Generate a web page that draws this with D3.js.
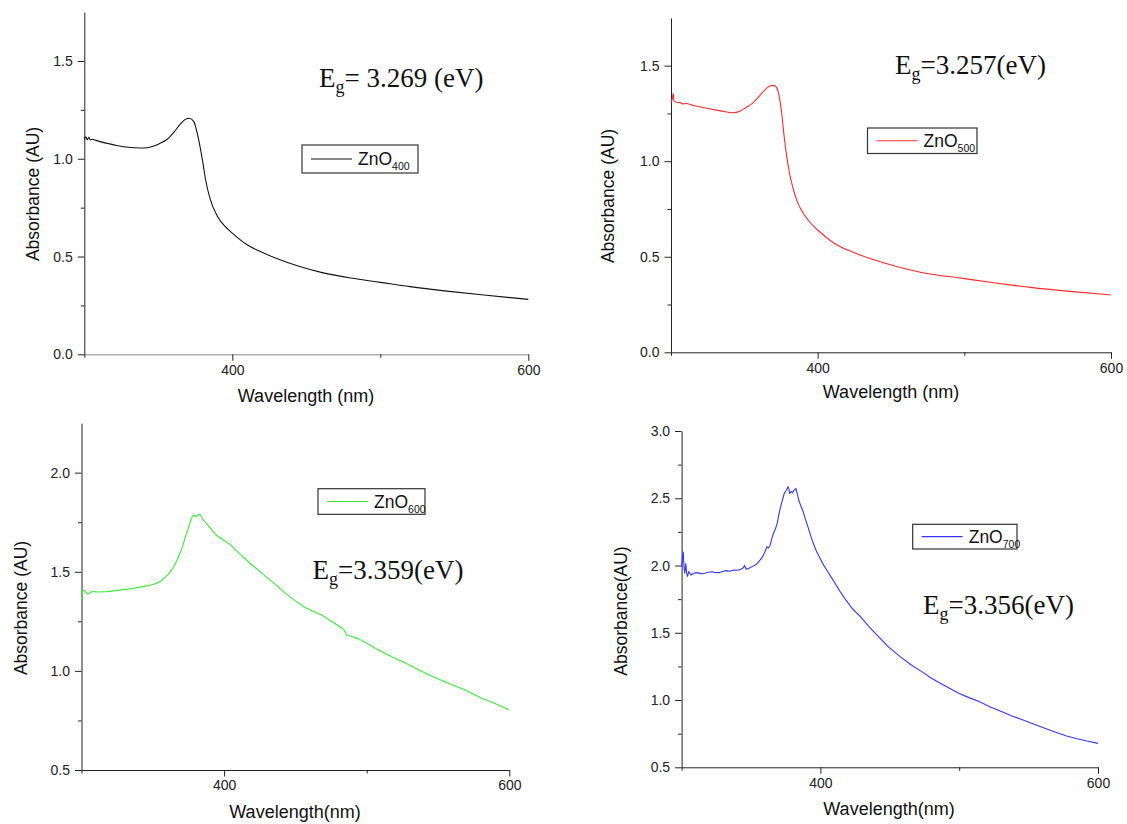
<!DOCTYPE html>
<html>
<head>
<meta charset="utf-8">
<script src="https://cdn.jsdelivr.net/npm/d3@7"></script>
<style>
  body { margin: 0; background: #fff; }
  svg { display: block; }
  .tick text { font-family: "Liberation Sans", Arial, sans-serif; font-size: 14px; fill: #222; }
</style>
</head>
<body>
<svg id="chart" width="1127" height="824"></svg>
<script>
// tick values shared by all four spectra
const xMajorTicks = [400, 600];
const xMinorTicks = [300, 500];

// absorbance spectra: [wavelength nm, absorbance AU]
const zno400 = [[300,1.10],[301,1.112],[302,1.098],[303,1.11],[304,1.096],[305.5,1.1],[308,1.094],[312,1.085],[316,1.078],[322,1.068],[328,1.06],[334,1.056],[340,1.055],[346,1.063],[351,1.078],[356,1.1],[361,1.14],[365,1.178],[368,1.2],[371,1.207],[374,1.19],[376,1.14],[378,1.07],[380,0.985],[382,0.89],[385,0.795],[390,0.705],[395,0.655],[400,0.62],[410,0.56],[420,0.522],[430,0.49],[445,0.45],[460,0.419],[480,0.39],[500,0.368],[520,0.346],[545,0.323],[570,0.303],[600,0.281]];

const zno500 = [[300,1.31],[301,1.33],[301.5,1.355],[302,1.318],[303,1.312],[304.5,1.306],[306,1.308],[308,1.3],[310,1.302],[316,1.29],[322,1.281],[328,1.272],[335,1.262],[342,1.254],[347,1.262],[351,1.28],[355,1.30],[359,1.33],[363,1.365],[367,1.392],[370,1.397],[372.5,1.378],[374,1.33],[375.5,1.25],[377,1.14],[379,1.02],[381,0.93],[383,0.865],[386,0.79],[390,0.73],[395,0.678],[400,0.64],[411,0.572],[426,0.518],[446,0.466],[470,0.419],[499,0.387],[520,0.364],[545,0.34],[570,0.32],[600,0.30]];

const zno600 = [[300,1.358],[300.8,1.408],[302,1.405],[304.5,1.386],[307.5,1.40],[312,1.398],[317.6,1.40],[324,1.405],[330,1.411],[336,1.416],[342.7,1.425],[348,1.432],[352.8,1.442],[356,1.455],[359,1.475],[361.5,1.493],[364,1.517],[366.5,1.55],[369,1.593],[371,1.632],[372.9,1.677],[375,1.72],[376.6,1.761],[378,1.781],[379,1.786],[380.4,1.778],[381.5,1.785],[383,1.791],[384,1.778],[385.4,1.761],[388,1.742],[390.5,1.719],[394,1.688],[399.5,1.66],[404,1.638],[408,1.61],[413,1.578],[418,1.543],[424,1.508],[430.7,1.467],[437,1.43],[443,1.391],[449,1.358],[455.8,1.324],[462,1.302],[468.4,1.282],[475,1.252],[481,1.223],[484,1.208],[486,1.181],[489,1.175],[493.5,1.164],[500,1.14],[506,1.114],[512,1.092],[518.6,1.068],[525,1.047],[531.2,1.025],[537,1.003],[543.8,0.979],[550,0.96],[556.3,0.94],[563,0.921],[569,0.904],[575,0.882],[581.5,0.86],[590,0.835],[600,0.803]];

const zno700 = [[300,1.99],[300.5,2.05],[301.2,2.103],[301.8,1.98],[302.3,1.942],[303,2.016],[303.6,1.95],[304.2,1.917],[305.2,1.954],[306.8,1.93],[309,1.945],[311.5,1.947],[314,1.94],[316.7,1.942],[319,1.95],[321.9,1.954],[324,1.948],[327,1.947],[330,1.958],[332.3,1.962],[335,1.958],[337.5,1.967],[340,1.965],[342.7,1.972],[344,1.98],[345.4,1.999],[346.6,1.972],[348.5,1.98],[350.6,1.99],[352.5,2.0],[354.5,2.016],[356.5,2.04],[358.4,2.066],[360,2.1],[361.5,2.14],[362.5,2.13],[363.6,2.145],[365,2.2],[366.2,2.24],[367.5,2.27],[368.8,2.31],[370.5,2.4],[371.9,2.46],[373,2.5],[374,2.537],[375.5,2.56],[376.6,2.585],[377.3,2.57],[377.9,2.537],[379,2.55],[379.8,2.54],[381,2.56],[382.4,2.572],[383.4,2.53],[384.4,2.487],[386,2.44],[387.6,2.40],[389,2.35],[391,2.289],[393,2.22],[394.9,2.165],[397,2.11],[399.8,2.053],[402.5,2.0],[405.3,1.954],[408,1.91],[410.5,1.868],[414,1.81],[418.3,1.744],[423,1.68],[428.8,1.62],[435,1.545],[441.8,1.471],[449,1.395],[457.4,1.323],[465,1.264],[473,1.211],[480,1.162],[488.7,1.112],[499.6,1.05],[507,1.018],[514.8,0.988],[522,0.95],[530.4,0.914],[538,0.882],[546,0.852],[554,0.82],[561.7,0.79],[569,0.762],[577.3,0.733],[585,0.712],[592,0.695],[600,0.678]];

// per-panel y ticks and band gap labels
const yMajor400 = [0, 0.5, 1.0, 1.5],  yMinor400 = [0.25, 0.75, 1.25];
const yMajor500 = [0, 0.5, 1.0, 1.5],  yMinor500 = [0.25, 0.75, 1.25];
const yMajor600 = [0.5, 1.0, 1.5, 2.0], yMinor600 = [0.75, 1.25, 1.75];
const yMajor700 = [0.5, 1.0, 1.5, 2.0, 2.5, 3.0], yMinor700 = [0.75, 1.25, 1.75, 2.25, 2.75];
const bandGaps = ["= 3.269 (eV)", "=3.257(eV)", "=3.359(eV)", "=3.356(eV)"];
const sampleTemps = ["400", "500", "600", "700"];

// layout of each panel (pixels)
const panels = [
  { data: zno400, color: "#111", xr: [84.3, 528.3], yr: [354.3, 12.1], yDomain: [0, 1.75],
    yMajor: yMajor400, yMinor: yMinor400, xAxisColor: "#888",
    eg: [319, 87], leg: { x: 302, y: 145, w: 116, h: 28 },
    xTitle: "Wavelength (nm)", yTitle: "Absorbance (AU)", xt: [306, 402], yt: [33, 194] },
  { data: zno500, color: "#ff2a2a", xr: [671, 1111], yr: [352.3, 17.9], yDomain: [0, 1.75],
    yMajor: yMajor500, yMinor: yMinor500, xAxisColor: "#222",
    eg: [895, 74], leg: { x: 867.5, y: 128, w: 109.5, h: 25.5 },
    xTitle: "Wavelength (nm)", yTitle: "Absorbance (AU)", xt: [891, 398], yt: [608, 196] },
  { data: zno600, color: "#33ee33", xr: [81.5, 509.3], yr: [770, 423.1], yDomain: [0.5, 2.25],
    yMajor: yMajor600, yMinor: yMinor600, xAxisColor: "#222",
    eg: [312.5, 579], leg: { x: 318, y: 488.7, w: 107, h: 25.6 },
    xTitle: "Wavelength(nm)", yTitle: "Absorbance (AU)", xt: [295, 818], yt: [21, 608] },
  { data: zno700, color: "#3535ff", xr: [681.6, 1098], yr: [767.3, 431], yDomain: [0.5, 3.0],
    yMajor: yMajor700, yMinor: yMinor700, xAxisColor: "#222",
    eg: [923, 614], leg: { x: 912.7, y: 524.3, w: 104.3, h: 24.7 },
    xTitle: "Wavelength(nm)", yTitle: "Absorbance(AU)", xt: [889, 815], yt: [621, 611] }
];

const svg = d3.select("#chart");

panels.forEach(function (p, i) {
  const x = d3.scaleLinear().domain([300, 600]).range(p.xr);
  const y = d3.scaleLinear().domain(p.yDomain).range(p.yr);
  const g = svg.append("g");

  // y axis
  g.append("g")
    .attr("transform", `translate(${p.xr[0]},0)`)
    .call(d3.axisLeft(y).tickValues(p.yMajor).tickFormat(d3.format(".1f")).tickSizeInner(6.5).tickSizeOuter(0).tickPadding(5))
    .call(a => a.selectAll("line,path").attr("stroke", "#222"));
  g.append("g")
    .attr("transform", `translate(${p.xr[0]},0)`)
    .call(d3.axisLeft(y).tickValues(p.yMinor).tickFormat("").tickSizeInner(3.5).tickSizeOuter(0))
    .call(a => a.select(".domain").remove())
    .call(a => a.selectAll("line").attr("stroke", "#222"));

  // x axis
  g.append("g")
    .attr("transform", `translate(0,${p.yr[0]})`)
    .call(d3.axisBottom(x).tickValues(xMajorTicks).tickFormat(d3.format("d")).tickSizeInner(6.5).tickSizeOuter(0).tickPadding(4))
    .call(a => a.select(".domain").attr("stroke", p.xAxisColor))
    .call(a => a.selectAll(".tick line").attr("stroke", "#222"));
  g.append("g")
    .attr("transform", `translate(0,${p.yr[0]})`)
    .call(d3.axisBottom(x).tickValues(xMinorTicks).tickFormat("").tickSizeInner(3.5).tickSizeOuter(0))
    .call(a => a.select(".domain").remove())
    .call(a => a.selectAll("line").attr("stroke", "#222"));

  // spectrum
  const line = d3.line()
    .x(d => x(d[0]))
    .y(d => y(d[1]))
    .curve(i < 2 ? d3.curveMonotoneX : d3.curveLinear);
  g.append("path")
    .datum(p.data)
    .attr("d", line)
    .attr("fill", "none")
    .attr("stroke", p.color)
    .attr("stroke-width", 1.1);

  // axis titles
  g.append("text")
    .attr("x", p.xt[0]).attr("y", p.xt[1])
    .attr("text-anchor", "middle")
    .style("font-family", "'Liberation Sans', Arial, sans-serif")
    .style("font-size", "18px").style("fill", "#111")
    .text(p.xTitle);
  g.append("text")
    .attr("transform", `translate(${p.yt[0]},${p.yt[1]}) rotate(-90)`)
    .attr("text-anchor", "middle")
    .attr("dy", "0.35em")
    .style("font-family", "'Liberation Sans', Arial, sans-serif")
    .style("font-size", "17.5px").style("fill", "#111")
    .text(p.yTitle);

  // band gap label
  const eg = g.append("text")
    .attr("x", p.eg[0]).attr("y", p.eg[1])
    .style("font-family", "'Liberation Serif', 'Times New Roman', serif")
    .style("font-size", "27px").style("fill", "#111");
  eg.append("tspan").text("E");
  eg.append("tspan").attr("dy", 6).style("font-size", "18px").text("g");
  eg.append("tspan").attr("dy", -6).text(bandGaps[i]);

  // legend
  const L = p.leg;
  g.append("rect")
    .attr("x", L.x).attr("y", L.y).attr("width", L.w).attr("height", L.h)
    .attr("fill", "#fff").attr("stroke", "#333").attr("stroke-width", 1.2);
  g.append("line")
    .attr("x1", L.x + 9).attr("x2", L.x + 50)
    .attr("y1", L.y + L.h / 2).attr("y2", L.y + L.h / 2)
    .attr("stroke", p.color).attr("stroke-width", 1.1);
  const lt = g.append("text")
    .attr("x", L.x + 56).attr("y", L.y + L.h / 2 + 6)
    .style("font-family", "'Liberation Sans', Arial, sans-serif")
    .style("font-size", "17.5px").style("fill", "#111");
  lt.append("tspan").text("ZnO");
  lt.append("tspan").attr("dy", 5).style("font-size", "10.5px").text(sampleTemps[i]);
});
</script>
</body>
</html>
